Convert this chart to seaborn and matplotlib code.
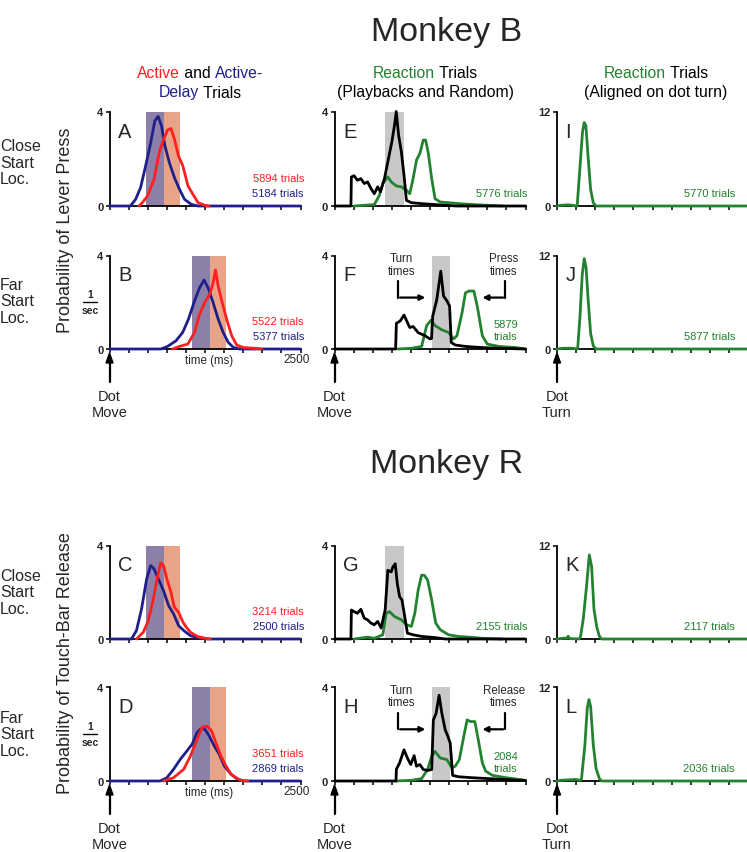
import numpy as np
import pandas as pd
import seaborn as sns
import matplotlib.pyplot as plt

# ---- data (time in ms, probability of response per sec) ----
A_BLUE_T = [0, 274, 341, 407, 473, 540, 593, 637, 681, 726, 783, 850, 916, 982, 1071, 1159, 2500]
A_BLUE_V = [0, 0, 0.28, 0.78, 1.7, 2.69, 3.6, 3.79, 3.39, 2.54, 1.84, 1.2, 0.71, 0.28, 0.07, 0, 0]
A_RED_T = [385, 429, 496, 584, 650, 708, 761, 805, 850, 903, 960, 1027, 1093, 1159, 1248, 1300]
A_RED_V = [0, 0.14, 0.42, 1.13, 2.26, 2.83, 3.22, 3.28, 2.83, 2.12, 1.7, 0.85, 0.49, 0.14, 0.03, 0]

B_BLUE_T = [0, 671, 760, 870, 958, 1034, 1113, 1179, 1237, 1290, 1356, 1422, 1488, 1555, 1621, 1700, 2500]
B_BLUE_V = [0, 0, 0.11, 0.35, 0.71, 1.28, 2.06, 2.62, 2.95, 2.62, 1.99, 1.28, 0.71, 0.28, 0.07, 0, 0]
B_RED_T = [826, 914, 1025, 1113, 1179, 1246, 1312, 1356, 1387, 1422, 1475, 1533, 1599, 1665, 1754, 1908, 1990]
B_RED_V = [0, 0.11, 0.21, 0.71, 1.49, 1.99, 2.34, 2.84, 3.38, 2.7, 1.99, 1.28, 0.57, 0.17, 0.06, 0.03, 0]

C_BLUE_T = [0, 287, 353, 420, 486, 539, 583, 640, 707, 773, 839, 905, 972, 1060, 1193, 1280, 2500]
C_BLUE_V = [0, 0, 0.36, 1.29, 2.57, 3.14, 3.0, 2.57, 2.07, 1.43, 1.07, 0.57, 0.36, 0.14, 0.03, 0, 0]
C_RED_T = [353, 442, 508, 574, 627, 671, 707, 751, 804, 848, 905, 963, 1007, 1060, 1148, 1259, 1320]
C_RED_V = [0, 0.29, 0.79, 1.71, 2.64, 3.26, 3.14, 2.57, 2.0, 1.36, 1.14, 0.71, 0.5, 0.29, 0.11, 0.03, 0]

D_BLUE_T = [0, 663, 751, 839, 928, 1016, 1082, 1148, 1193, 1246, 1303, 1369, 1436, 1502, 1590, 1678, 1760, 2500]
D_BLUE_V = [0, 0, 0.14, 0.5, 0.93, 1.29, 1.57, 2.07, 2.21, 2.21, 1.93, 1.5, 1.14, 0.64, 0.29, 0.07, 0, 0]
D_RED_T = [707, 839, 972, 1060, 1148, 1215, 1281, 1334, 1391, 1458, 1524, 1590, 1656, 1723, 1810]
D_RED_V = [0, 0.14, 0.5, 1.07, 1.79, 2.29, 2.33, 2.14, 1.64, 1.07, 0.64, 0.29, 0.14, 0.03, 0]

E_BLACK_T = [0, 215, 221, 256, 300, 345, 389, 433, 477, 521, 565, 601, 654, 698, 751, 786, 808,
             839, 875, 910, 941, 1007, 1140, 1316, 1493, 1600, 2500]
E_BLACK_V = [0, 0, 1.23, 1.28, 1.09, 1.16, 0.95, 1.02, 0.74, 0.52, 0.81, 0.6, 1.16, 1.87, 2.72, 3.43, 4.0,
             3.0, 2.3, 1.3, 0.24, 0.14, 0.1, 0.06, 0.02, 0, 0]
E_GREEN_T = [256, 521, 587, 632, 698, 742, 808, 875, 941, 985, 1029, 1073, 1118, 1162, 1193, 1228,
             1272, 1316, 1383, 1493, 1670, 1935, 2200]
E_GREEN_V = [0, 0.06, 0.45, 0.95, 1.23, 1.02, 0.85, 0.81, 0.67, 0.52, 1.16, 1.94, 2.23, 2.79, 2.79, 2.23,
             1.16, 0.31, 0.17, 0.14, 0.09, 0.04, 0]

F_BLACK_T = [0, 800, 810, 860, 910, 985, 1030, 1095, 1184, 1250, 1270, 1285, 1338, 1391, 1427, 1471,
             1506, 1528, 1581, 1714, 1890, 2000, 2200, 2487, 2500]
F_BLACK_V = [0, 0, 1.1, 1.2, 1.45, 0.92, 0.96, 0.7, 0.57, 0.43, 0.45, 1.4, 2.1, 3.33, 2.27, 2.06,
             1.84, 0.28, 0.17, 0.11, 0.07, 0.05, 0.03, 0, 0]
F_GREEN_T = [830, 1007, 1140, 1206, 1263, 1316, 1405, 1493, 1559, 1603, 1670, 1714, 1758, 1824, 1868,
             1935, 2000, 2155, 2376, 2500]
F_GREEN_V = [0, 0.03, 0.11, 1.0, 1.23, 1.0, 0.82, 0.71, 0.43, 0.57, 1.56, 2.4, 2.48, 2.48, 1.84,
             0.57, 0.21, 0.11, 0.06, 0]

G_BLACK_T = [0, 215, 221, 256, 300, 345, 389, 433, 477, 521, 565, 610, 663, 698, 742, 764, 795, 822,
             852, 883, 919, 954, 1029, 1140, 1316, 1450, 2500]
G_BLACK_V = [0, 0, 1.24, 1.17, 1.1, 1.27, 0.89, 0.82, 0.68, 0.61, 0.75, 0.47, 1.24, 2.94, 2.87, 3.08, 3.22, 2.37,
             1.81, 1.67, 0.96, 0.25, 0.18, 0.11, 0.06, 0, 0]
G_GREEN_T = [256, 433, 521, 632, 676, 720, 786, 875, 941, 1007, 1051, 1095, 1140, 1175, 1219, 1272,
             1325, 1383, 1493, 1625, 1758, 1935, 2200]
G_GREEN_V = [0, 0.08, 0.03, 0.18, 1.1, 1.17, 0.96, 0.82, 0.61, 0.54, 1.1, 2.09, 2.73, 2.73, 2.52, 1.67,
             0.68, 0.4, 0.18, 0.11, 0.08, 0.03, 0]

H_BLACK_T = [0, 805, 810, 852, 910, 954, 998, 1042, 1073, 1118, 1162, 1219, 1272, 1294, 1330, 1369,
             1405, 1449, 1484, 1515, 1546, 1625, 1802, 2023, 2244, 2500]
H_BLACK_V = [0, 0, 0.5, 0.77, 1.33, 0.98, 0.7, 1.08, 0.63, 0.7, 0.49, 0.45, 0.49, 2.6, 2.88, 3.65,
             2.88, 2.18, 1.9, 1.61, 0.24, 0.18, 0.14, 0.1, 0.06, 0.02]
H_GREEN_T = [808, 1007, 1140, 1219, 1272, 1316, 1383, 1471, 1537, 1581, 1634, 1692, 1736, 1780, 1837,
             1882, 1935, 1979, 2067, 2244, 2500]
H_GREEN_V = [0, 0.03, 0.1, 0.49, 1.05, 1.26, 0.98, 0.91, 0.56, 0.63, 0.91, 1.9, 2.6, 2.53, 2.53,
             1.75, 0.77, 0.42, 0.24, 0.14, 0.03]

I_T = [0, 60, 150, 230, 264, 299, 334, 356, 378, 409, 440, 475, 510, 2500]
I_V = [0, 0.1, 0.15, 0.05, 0, 4.7, 9.4, 10.6, 10.2, 6.0, 2.1, 0.4, 0, 0]
J_T = [0, 80, 200, 270, 300, 330, 356, 380, 410, 440, 475, 510, 2500]
J_V = [0, 0.1, 0.1, 0, 4.0, 9.5, 11.6, 10.5, 6.0, 2.0, 0.4, 0, 0]
K_T = [0, 80, 130, 145, 170, 290, 308, 343, 387, 423, 453, 484, 519, 555, 585, 2500]
K_V = [0, 0.1, 0.1, 0.35, 0.05, 0, 0.3, 2.5, 6.8, 10.8, 9.3, 3.8, 1.6, 0.34, 0, 0]
L_T = [0, 60, 150, 250, 300, 321, 365, 396, 418, 440, 475, 511, 555, 585, 2500]
L_V = [0, 0.1, 0.15, 0.2, 0.05, 0.3, 4.6, 9.3, 10.4, 9.5, 4.6, 1.6, 0.3, 0, 0]

# shaded epochs (ms)
BANDS_CLOSE = [473, 717, 925]     # purple start, boundary, orange end
BANDS_FAR = [1075, 1320, 1528]
GRAY_CLOSE = [663, 910]
GRAY_FAR = [1272, 1515]

TRIALS = {
    "A": ["5894 trials", "5184 trials"], "B": ["5522 trials", "5377 trials"],
    "C": ["3214 trials", "2500 trials"], "D": ["3651 trials", "2869 trials"],
    "E": "5776 trials", "F": "5879\ntrials", "G": "2155 trials", "H": "2084\ntrials",
    "I": "5770 trials", "J": "5877 trials", "K": "2117 trials", "L": "2036 trials",
}

RED = "#ff1f1f"
NAVY = "#1f1f8c"
GREEN = "#23822f"
PURPLE = "#8c80a8"
ORANGE = "#e9a387"
GRAY = "#c8c8c8"

sns.set_style("ticks")
plt.rcParams['font.family'] = ['Liberation Sans', 'DejaVu Sans']

W, H = 747, 853
fig = plt.figure(figsize=(W / 100, H / 100), dpi=100)


def px(x, y):
    return x / W, 1 - y / H


def make_ax(x0, ytop, ybot, ymax):
    ax = fig.add_axes([x0 / W, 1 - ybot / H, 191 / W, (ybot - ytop) / H])
    ax.set_xlim(0, 2500)
    ax.set_ylim(0, ymax)
    ax.set_xticks(np.arange(0, 2501, 250))
    ax.set_xticklabels([])
    ax.set_yticks([0, ymax])
    ax.set_yticklabels(["0", str(ymax)], fontsize=8, fontweight="bold")
    ax.tick_params(axis="both", length=3, width=1.1, pad=1.5, color="black")
    sns.despine(ax=ax)
    for s in ["left", "bottom"]:
        ax.spines[s].set_linewidth(1.3)
        ax.spines[s].set_color("black")
    ax.patch.set_alpha(0)
    return ax


def curve(ax, t, v, color):
    df = pd.DataFrame({"t": t, "v": v})
    sns.lineplot(data=df, x="t", y="v", color=color, lw=2.0, estimator=None,
                 ax=ax, clip_on=False, zorder=3)
    ax.set_xlabel("")
    ax.set_ylabel("")


def letter(ax, s):
    ax.text(0.045, 0.69, s, transform=ax.transAxes, fontsize=14.5, va="bottom", ha="left")


def arrows(ax, right_label):
    ax.plot([830, 830], [2.9, 2.2], color="black", lw=1.6)
    ax.annotate("", xy=(1225, 2.2), xytext=(822, 2.2),
                arrowprops=dict(arrowstyle="-|>", color="black", lw=1.6, mutation_scale=8))
    ax.text(880, 3.62, "Turn\ntimes", ha="center", va="center", fontsize=8.3, linespacing=1.05)
    ax.plot([2235, 2235], [2.9, 2.2], color="black", lw=1.6)
    ax.annotate("", xy=(1900, 2.2), xytext=(2243, 2.2),
                arrowprops=dict(arrowstyle="-|>", color="black", lw=1.6, mutation_scale=8))
    ax.text(2215, 3.62, right_label + "\ntimes", ha="center", va="center", fontsize=8.3, linespacing=1.05)


COLS = [109.5, 334.5, 557]
ROWS = [(112.5, 207), (256.5, 350), (546.5, 640), (688, 782)]

panels = {}
for r, (yt, yb) in enumerate(ROWS):
    for c, x0 in enumerate(COLS):
        panels[(r, c)] = make_ax(x0, yt, yb, 12 if c == 2 else 4)

# column 1: Active / Active-Delay
col1 = [("A", BANDS_CLOSE, A_BLUE_T, A_BLUE_V, A_RED_T, A_RED_V),
        ("B", BANDS_FAR, B_BLUE_T, B_BLUE_V, B_RED_T, B_RED_V),
        ("C", BANDS_CLOSE, C_BLUE_T, C_BLUE_V, C_RED_T, C_RED_V),
        ("D", BANDS_FAR, D_BLUE_T, D_BLUE_V, D_RED_T, D_RED_V)]
for r, (lab, bands, bt, bv, rt, rv) in enumerate(col1):
    ax = panels[(r, 0)]
    ax.axvspan(bands[0], bands[1], color=PURPLE, lw=0, zorder=0)
    ax.axvspan(bands[1], bands[2], color=ORANGE, lw=0, zorder=0)
    curve(ax, bt, bv, NAVY)
    curve(ax, rt, rv, RED)
    letter(ax, lab)
    yb = ROWS[r][1]
    fig.text(*px(304, yb - 28), TRIALS[lab][0], color=RED, fontsize=8, ha="right", va="center")
    fig.text(*px(304, yb - 13), TRIALS[lab][1], color=NAVY, fontsize=8, ha="right", va="center")

# column 2: Reaction trials
col2 = [("E", GRAY_CLOSE, E_BLACK_T, E_BLACK_V, E_GREEN_T, E_GREEN_V),
        ("F", GRAY_FAR, F_BLACK_T, F_BLACK_V, F_GREEN_T, F_GREEN_V),
        ("G", GRAY_CLOSE, G_BLACK_T, G_BLACK_V, G_GREEN_T, G_GREEN_V),
        ("H", GRAY_FAR, H_BLACK_T, H_BLACK_V, H_GREEN_T, H_GREEN_V)]
for r, (lab, gb, kt, kv, gt, gv) in enumerate(col2):
    ax = panels[(r, 1)]
    ax.axvspan(gb[0], gb[1], color=GRAY, lw=0, zorder=0)
    curve(ax, gt, gv, GREEN)
    curve(ax, kt, kv, "black")
    letter(ax, lab)
    yb = ROWS[r][1]
    if "\n" in TRIALS[lab]:
        fig.text(*px(506, yb - 19), TRIALS[lab], color=GREEN, fontsize=8, ha="center",
                 va="center", linespacing=1.15)
    else:
        fig.text(*px(527, yb - 13), TRIALS[lab], color=GREEN, fontsize=8, ha="right", va="center")
arrows(panels[(1, 1)], "Press")
arrows(panels[(3, 1)], "Release")

# column 3: aligned on dot turn
for r, (lab, t, v) in enumerate([("I", I_T, I_V), ("J", J_T, J_V), ("K", K_T, K_V), ("L", L_T, L_V)]):
    ax = panels[(r, 2)]
    curve(ax, t, v, GREEN)
    letter(ax, lab)
    yb = ROWS[r][1]
    fig.text(*px(735, yb - 13), TRIALS[lab], color=GREEN, fontsize=8, ha="right", va="center")

# time axis labels under B and D
for r in (1, 3):
    yb = ROWS[r][1]
    fig.text(*px(209, yb + 11), "time (ms)", fontsize=8.3, ha="center", va="center")
    fig.text(*px(297, yb + 10), "2500", fontsize=8.5, ha="center", va="center")

# Dot move / Dot turn arrows
for r in (1, 3):
    yb = ROWS[r][1]
    for c, x0 in enumerate(COLS):
        fig.add_artist(plt.Line2D([x0 / W, x0 / W], [1 - (yb + 33) / H, 1 - (yb + 12) / H],
                                  color="black", lw=1.6))
        fig.add_artist(plt.Polygon([px(x0, yb + 4), px(x0 - 3.5, yb + 14), px(x0 + 3.5, yb + 14)],
                                   closed=True, color="black"))
        fig.text(*px(x0, yb + 47), "Dot", fontsize=10.5, ha="center", va="center")
        fig.text(*px(x0, yb + 63), "Turn" if c == 2 else "Move", fontsize=10.5, ha="center", va="center")

# titles
fig.text(*px(447, 32), "Monkey B", fontsize=24.5, ha="center", va="center")
fig.text(*px(447, 465), "Monkey R", fontsize=24.5, ha="center", va="center")


def colored_line(xc, y, parts, fs=11.3):
    # draw a line of text made of coloured pieces, centred on xc
    r = fig.canvas.get_renderer()
    widths = []
    for s, col in parts:
        t = fig.text(0, 0, s, fontsize=fs)
        widths.append(t.get_window_extent(renderer=r).width)
        t.remove()
    x = xc - sum(widths) / 2
    for (s, col), w in zip(parts, widths):
        fig.text(x / W, 1 - y / H, s, fontsize=fs, color=col, ha="left", va="center")
        x += w


colored_line(200, 74, [("Active", RED), (" and ", "black"), ("Active-", NAVY)])
colored_line(200, 93, [("Delay", NAVY), (" Trials", "black")])
colored_line(425, 74, [("Reaction", GREEN), (" Trials", "black")])
colored_line(425, 93, [("(Playbacks and Random)", "black")])
colored_line(656, 74, [("Reaction", GREEN), (" Trials", "black")])
colored_line(656, 93, [("(Aligned on dot turn)", "black")])

# row labels
for yc in (163, 302, 593, 735):
    fig.text(*px(0, yc), "Close\nStart\nLoc." if yc in (163, 593) else "Far\nStart\nLoc.",
             fontsize=11.5, ha="left", va="center", linespacing=1.15)

# y labels
fig.text(*px(66, 230), "Probability of Lever Press", fontsize=13, rotation=90, ha="center", va="center")
fig.text(*px(66, 663), "Probability of Touch-Bar Release", fontsize=13, rotation=90,
         ha="center", va="center")
for ym in (303, 735):
    fig.text(*px(90, ym - 8), "1", fontsize=7.5, fontweight="bold", ha="center", va="center")
    fig.add_artist(plt.Line2D([83 / W, 97 / W], [1 - ym / H, 1 - ym / H], color="black", lw=1))
    fig.text(*px(90, ym + 8), "sec", fontsize=7.5, fontweight="bold", ha="center", va="center")

fig.savefig("out.png", dpi=100)
